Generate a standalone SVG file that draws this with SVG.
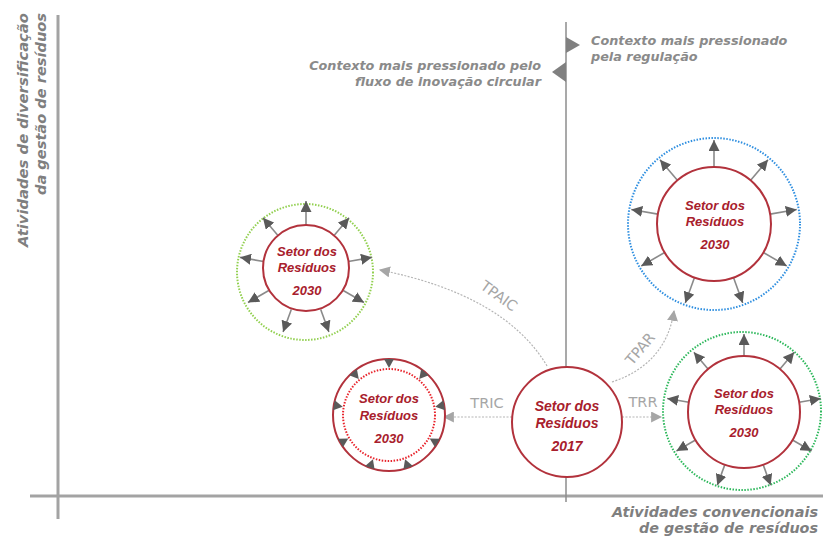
<svg xmlns="http://www.w3.org/2000/svg" width="823" height="539" viewBox="0 0 823 539">
<style>
.axis{stroke:#a3a3a3;stroke-width:3;fill:none}
.mid{stroke:#8c8c8c;stroke-width:1.5;fill:none}
.lab{font-family:"DejaVu Sans",Verdana,sans-serif;font-weight:bold;font-style:italic;fill:#8a8a8a;font-size:12.8px}
.axl{font-family:"DejaVu Sans",Verdana,sans-serif;font-weight:bold;font-style:italic;fill:#7f7f7f;font-size:13.5px}
.red{stroke:#b2323c;stroke-width:2;fill:#fff}
.reddot{stroke:#e8232b;stroke-width:2;stroke-dasharray:1.5,1.5;fill:none}
.gdot1{stroke:#92d050;stroke-width:2;stroke-dasharray:1.5,1.5;fill:none}
.gdot2{stroke:#2eb85c;stroke-width:2;stroke-dasharray:1.5,1.5;fill:none}
.bdot{stroke:#2f8fe0;stroke-width:2;stroke-dasharray:1.5,1.5;fill:none}
.ct{font-family:"Liberation Sans",Arial,sans-serif;font-weight:bold;font-style:italic;fill:#a8202c;text-anchor:middle}
.rad{stroke:#8a8a8a;stroke-width:1.6;marker-end:url(#rh)}
.conn{stroke:#b5b5b5;stroke-width:1.2;stroke-dasharray:2,1.5;fill:none;marker-end:url(#ch)}
.cl{font-family:"DejaVu Sans",Verdana,sans-serif;fill:#a6a6a6;font-size:14.5px;text-anchor:middle}
.inw{fill:#5a5a5a}
</style>
<defs>
<marker id="rh" markerUnits="userSpaceOnUse" markerWidth="11" markerHeight="11" viewBox="0 0 10 10" refX="10" refY="5" orient="auto">
<path d="M0,0 L10,5 L0,10 z" fill="#5a5a5a"/>
</marker>
<marker id="ch" markerUnits="userSpaceOnUse" markerWidth="11" markerHeight="11" viewBox="0 0 10 10" refX="9" refY="5" orient="auto">
<path d="M0,0 L10,5 L0,10 z" fill="#a6a6a6"/>
</marker>
<polygon id="tri" points="-5,-56 5,-56 0,-47" class="inw"/>
</defs>

<g id="axes">
<line class="axis" x1="58" y1="15" x2="58" y2="519"/>
<line class="axis" x1="30" y1="496" x2="823" y2="496"/>
<line class="mid" x1="566" y1="22" x2="566" y2="502"/>
<polygon points="566,37 580,45 566,53" fill="#808080"/>
<polygon points="566,62 552,72 566,82" fill="#808080"/>
</g>

<g id="labels">
<text class="axl" transform="translate(28,13) rotate(-90)" text-anchor="end" textLength="234" lengthAdjust="spacingAndGlyphs">Atividades  de diversificação</text>
<text class="axl" transform="translate(46,13) rotate(-90)" text-anchor="end" textLength="182" lengthAdjust="spacingAndGlyphs">da gestão de resíduos</text>
<text class="axl" x="612" y="517" textLength="206" lengthAdjust="spacingAndGlyphs">Atividades  convencionais</text>
<text class="axl" x="639" y="533" textLength="179" lengthAdjust="spacingAndGlyphs">de gestão de resíduos</text>
<text class="lab" x="541" y="70" text-anchor="end">Contexto mais pressionado pelo</text>
<text class="lab" x="541" y="86" text-anchor="end">fluxo de inovação circular</text>
<text class="lab" x="591" y="45">Contexto mais pressionado</text>
<text class="lab" x="591" y="61">pela regulação</text>
</g>

<g id="connectors">
<path class="conn" d="M547,366 Q505,295 380,270"/>
<path class="conn" d="M612,382 Q666,364 674,311"/>
<line class="conn" x1="512" y1="417" x2="444" y2="417"/>
<line class="conn" x1="622" y1="417" x2="661" y2="417"/>
<text class="cl" transform="translate(496,300) rotate(36)">TPAIC</text>
<text class="cl" transform="translate(644,352) rotate(-50)">TPAR</text>
<text class="cl" x="487" y="408">TRIC</text>
<text class="cl" x="643" y="407">TRR</text>
</g>

<g id="node-tpaic">
<circle class="gdot1" cx="305" cy="272" r="68"/>
<g transform="translate(306,269)">
<line class="rad" x1="0" y1="-43" x2="0" y2="-68"/>
<line class="rad" x1="0" y1="-43" x2="0" y2="-67" transform="rotate(40)"/>
<line class="rad" x1="0" y1="-43" x2="0" y2="-67" transform="rotate(80)"/>
<line class="rad" x1="0" y1="-43" x2="0" y2="-67" transform="rotate(120)"/>
<line class="rad" x1="0" y1="-43" x2="0" y2="-67" transform="rotate(160)"/>
<line class="rad" x1="0" y1="-43" x2="0" y2="-67" transform="rotate(200)"/>
<line class="rad" x1="0" y1="-43" x2="0" y2="-67" transform="rotate(240)"/>
<line class="rad" x1="0" y1="-43" x2="0" y2="-67" transform="rotate(280)"/>
<line class="rad" x1="0" y1="-43" x2="0" y2="-67" transform="rotate(320)"/>
</g>
<circle class="red" cx="306" cy="268" r="43"/>
<text class="ct" x="307" y="256" font-size="13">Setor dos</text>
<text class="ct" x="307" y="272" font-size="13">Resíduos</text>
<text class="ct" x="307" y="295" font-size="13">2030</text>
</g>

<g id="node-tric">
<circle class="red" cx="389" cy="415" r="56"/>
<circle class="reddot" cx="389" cy="415" r="46"/>
<g transform="translate(389,415)">
<use href="#tri"/>
<use href="#tri" transform="rotate(40)"/>
<use href="#tri" transform="rotate(80)"/>
<use href="#tri" transform="rotate(120)"/>
<use href="#tri" transform="rotate(160)"/>
<use href="#tri" transform="rotate(200)"/>
<use href="#tri" transform="rotate(240)"/>
<use href="#tri" transform="rotate(280)"/>
<use href="#tri" transform="rotate(320)"/>
</g>
<text class="ct" x="389" y="403" font-size="13">Setor dos</text>
<text class="ct" x="389" y="420" font-size="13">Resíduos</text>
<text class="ct" x="389" y="443" font-size="13">2030</text>
</g>

<g id="node-2017">
<circle class="red" cx="567" cy="422" r="55"/>
<text class="ct" x="567" y="411" font-size="14">Setor dos</text>
<text class="ct" x="567" y="428" font-size="14">Resíduos</text>
<text class="ct" x="567" y="451" font-size="14">2017</text>
</g>

<g id="node-tpar">
<circle class="bdot" cx="714" cy="224" r="86"/>
<g transform="translate(714,224)">
<line class="rad" x1="0" y1="-57" x2="0" y2="-84"/>
<line class="rad" x1="0" y1="-57" x2="0" y2="-84" transform="rotate(40)"/>
<line class="rad" x1="0" y1="-57" x2="0" y2="-84" transform="rotate(80)"/>
<line class="rad" x1="0" y1="-57" x2="0" y2="-84" transform="rotate(120)"/>
<line class="rad" x1="0" y1="-57" x2="0" y2="-84" transform="rotate(160)"/>
<line class="rad" x1="0" y1="-57" x2="0" y2="-84" transform="rotate(200)"/>
<line class="rad" x1="0" y1="-57" x2="0" y2="-84" transform="rotate(240)"/>
<line class="rad" x1="0" y1="-57" x2="0" y2="-84" transform="rotate(280)"/>
<line class="rad" x1="0" y1="-57" x2="0" y2="-84" transform="rotate(320)"/>
</g>
<circle class="red" cx="714" cy="224" r="57"/>
<text class="ct" x="715" y="210" font-size="13">Setor dos</text>
<text class="ct" x="715" y="226" font-size="13">Resíduos</text>
<text class="ct" x="715" y="249" font-size="13">2030</text>
</g>

<g id="node-trr">
<circle class="gdot2" cx="742" cy="411" r="79"/>
<g transform="translate(744,412)">
<line class="rad" x1="0" y1="-56" x2="0" y2="-78"/>
<line class="rad" x1="0" y1="-56" x2="0" y2="-78" transform="rotate(40)"/>
<line class="rad" x1="0" y1="-56" x2="0" y2="-78" transform="rotate(80)"/>
<line class="rad" x1="0" y1="-56" x2="0" y2="-78" transform="rotate(120)"/>
<line class="rad" x1="0" y1="-56" x2="0" y2="-78" transform="rotate(160)"/>
<line class="rad" x1="0" y1="-56" x2="0" y2="-78" transform="rotate(200)"/>
<line class="rad" x1="0" y1="-56" x2="0" y2="-78" transform="rotate(240)"/>
<line class="rad" x1="0" y1="-56" x2="0" y2="-78" transform="rotate(280)"/>
<line class="rad" x1="0" y1="-56" x2="0" y2="-78" transform="rotate(320)"/>
</g>
<circle class="red" cx="744" cy="412" r="56"/>
<text class="ct" x="744" y="398" font-size="13">Setor dos</text>
<text class="ct" x="744" y="414" font-size="13">Resíduos</text>
<text class="ct" x="744" y="437" font-size="13">2030</text>
</g>
</svg>
